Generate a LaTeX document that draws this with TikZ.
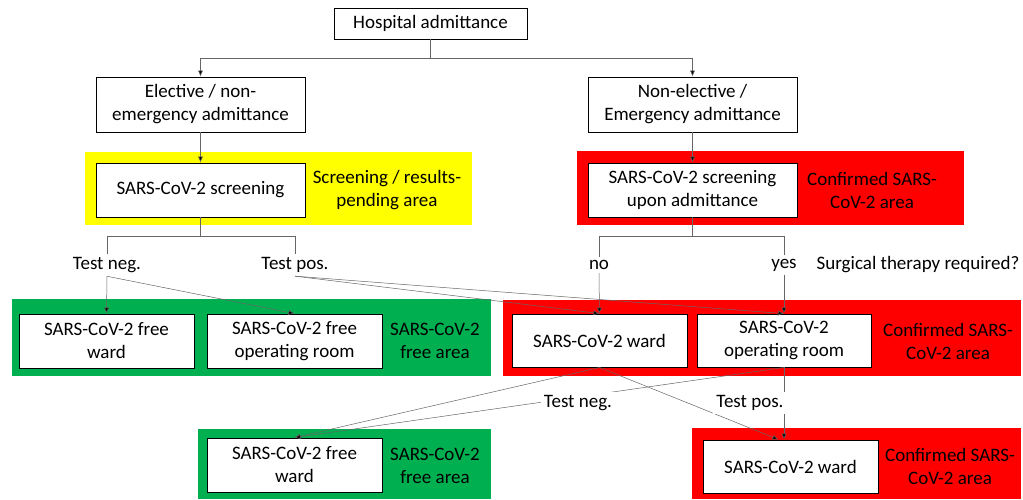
\documentclass[tikz,border=0pt]{standalone}
\usepackage{fontspec}
\setmainfont{Carlito}
\usepackage{tikz}
\usetikzlibrary{arrows.meta, positioning}

\definecolor{zonegreen}{RGB}{0,176,80}
\definecolor{zonered}{RGB}{255,0,0}
\definecolor{zoneyellow}{RGB}{255,255,0}

\tikzset{
  box/.style={draw, line width=0.9pt, fill=white, align=center, inner sep=0pt},
  flow/.style={draw=black!60, line width=0.5pt},
  arr/.style={flow, -{Latex[length=6pt,width=5pt,fill=black]}},
  lbl/.style={align=center, fill=white, inner sep=3pt},
  zone/.style={align=center, inner sep=0pt},
}

\begin{document}
\begin{tikzpicture}[x=1pt, y=-1pt, font=\fontsize{19}{23}\selectfont]
\useasboundingbox[fill=white] (0,0) rectangle (1023,499);
% areas
\fill[zoneyellow] (85,152) rectangle (472,225);
\fill[zonered] (577,151) rectangle (964,225);
\fill[zonegreen] (12,299) rectangle (491,376);
\fill[zonered] (503,300) rectangle (1021,376);
\fill[zonegreen] (198,429) rectangle (491,499);
\fill[zonered] (692,428) rectangle (1021,499);

% boxes
\node[box, minimum width=193, minimum height=31] (hosp) at (430.5,23.5) {Hospital admittance};
\node[box, minimum width=209, minimum height=55] (elec) at (200.5,104.5) {Elective / non-\\emergency admittance};
\node[box, minimum width=209, minimum height=55] (nonel) at (692.5,104.5) {Non-elective /\\Emergency admittance};
\node[box, minimum width=209, minimum height=54] (scr) at (200.5,190) {SARS-CoV-2 screening};
\node[box, minimum width=209, minimum height=54] (scrup) at (692.5,190) {SARS-CoV-2 screening\\upon admittance};
\node[box, minimum width=175, minimum height=54] (fward) at (106.5,341) {SARS-CoV-2 free\\ward};
\node[box, minimum width=175, minimum height=54] (fop) at (294.5,341) {SARS-CoV-2 free\\operating room};
\node[box, minimum width=175, minimum height=53] (ward) at (599.5,340.5) {SARS-CoV-2 ward};
\node[box, minimum width=174, minimum height=53] (op) at (784,340.5) {SARS-CoV-2\\operating room};
\node[box, minimum width=175, minimum height=54] (fwardb) at (294.5,465) {SARS-CoV-2 free\\ward};
\node[box, minimum width=175, minimum height=53] (wardb) at (790.5,466.5) {SARS-CoV-2 ward};

% area labels
\node[zone] (zscr) at (387,190) {Screening / results-\\pending area};
\node[zone] (zconf) at (872,190) {Confirmed SARS-\\CoV-2 area};
\node[zone] (zfree) at (435,341) {SARS-CoV-2\\free area};
\node[zone] (zconfb) at (948,341) {Confirmed SARS-\\CoV-2 area};
\node[zone] (zfreeb) at (435,466) {SARS-CoV-2\\free area};
\node[zone] (zconfc) at (950,466) {Confirmed SARS-\\CoV-2 area};

% decisions
\node (tneg) at (107,265) {Test neg.};
\node (tpos) at (295,265) {Test pos.};
\node (no) at (599,265) {no};
\node (yes) at (784,265) {yes};
\node (surg) at (918,265) {Surgical therapy required?};

\draw[flow] (hosp.south) -- (430.5,58) coordinate (split);
\draw[arr] (split) -| (elec.north);
\draw[arr] (split) -| (nonel.north);
\draw[arr] (elec) -- (scr);
\draw[arr] (nonel) -- (scrup);

\draw[flow] (scr.south) -- ++(0,19) coordinate (splitl);
\draw[flow] (splitl) -| (tneg.north);
\draw[flow] (splitl) -| (tpos.north);
\draw[flow] (scrup.south) -- ++(0,19) coordinate (splitr);
\draw[flow] (splitr) -| (no.north);
\draw[flow] (splitr) -| (yes.north);

\draw[arr] (tneg.south) -- (fward.north);
\draw[arr] (tneg.south) -- (fop.north);
\draw[arr] (tpos.south) -- (ward.north);
\draw[arr] (tpos.south) -- (op.north);
\draw[arr] (no.south) -- (ward.north);
\draw[arr] (yes.south) -- (op.north);

\draw[arr] (ward.south) -- (fwardb.north);
\draw[arr] (op.south) -- (fwardb.north);
\draw[arr] (ward.south) -- ([xshift=-12]wardb.north);
\draw[arr] (op.south) -- (op.south |- wardb.north);

\node[lbl] (tnegb) at (578,403) {Test neg.};
\node[lbl] (tposb) at (750,403) {Test pos.};
\end{tikzpicture}
\end{document}
